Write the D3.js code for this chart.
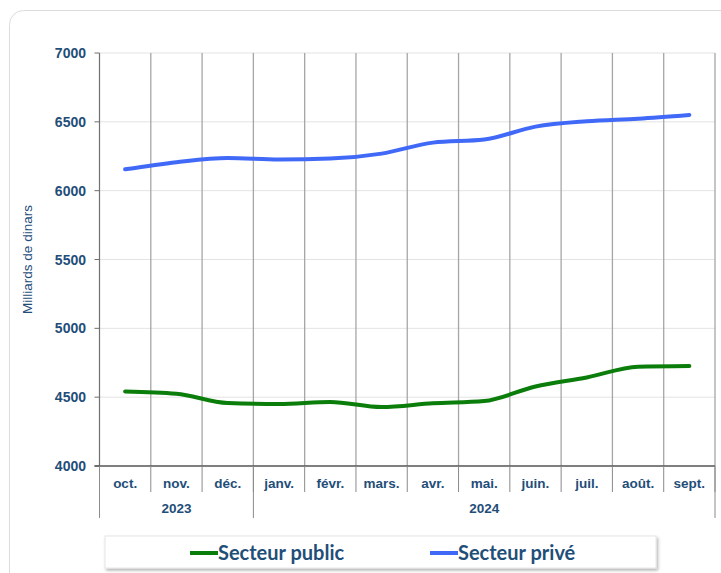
<!DOCTYPE html>
<html>
<head>
<meta charset="utf-8">
<script src="https://cdn.jsdelivr.net/npm/d3@7"></script>
<style>
  body { margin: 0; background: #fff; }
  svg { display: block; }
</style>
</head>
<body>
<div id="chart"></div>
<script>
// Data
const months = ["oct.", "nov.", "déc.", "janv.", "févr.", "mars.", "avr.", "mai.", "juin.", "juil.", "août.", "sept."];
const years = [
  { label: "2023", from: 0, to: 3 },
  { label: "2024", from: 3, to: 12 }
];
const publicValues = [4542, 4525, 4457, 4450, 4465, 4428, 4455, 4472, 4578, 4643, 4721, 4726];
const priveValues = [6155, 6207, 6238, 6226, 6233, 6269, 6349, 6371, 6465, 6504, 6523, 6550];
const yTicks = [4000, 4500, 5000, 5500, 6000, 6500, 7000];

const width = 721, height = 573;
const margin = { left: 99.5, right: 6, top: 53, bottom: 107 };
const navy = "#1f4e79";

const svg = d3.select("#chart").append("svg")
  .attr("width", width)
  .attr("height", height);

// outer card
svg.append("rect")
  .attr("x", 9.5).attr("y", 10.5)
  .attr("width", 740).attr("height", 600)
  .attr("rx", 14)
  .attr("fill", "#fff")
  .attr("stroke", "#dcdcdc");

const x = d3.scaleBand()
  .domain(months)
  .range([margin.left, width - margin.right])
  .padding(0);

const y = d3.scaleLinear()
  .domain([4000, 7000])
  .range([height - margin.bottom, margin.top]);

const x0 = margin.left, x1 = width - margin.right;
const yBottom = y(4000), yTop = y(7000);

// horizontal gridlines
svg.append("g")
  .selectAll("line")
  .data(yTicks.filter(d => d > 4000))
  .join("line")
  .attr("x1", x0).attr("x2", x1)
  .attr("y1", d => y(d)).attr("y2", d => y(d))
  .attr("stroke", "#e3e3e3")
  .attr("stroke-width", 1);

// vertical gridlines (category boundaries)
svg.append("g")
  .selectAll("line")
  .data(months.slice(1).map(m => x(m)).concat([x1]))
  .join("line")
  .attr("x1", d => d).attr("x2", d => d)
  .attr("y1", yTop).attr("y2", yBottom)
  .attr("stroke", "#a6a6a6")
  .attr("stroke-width", 1.3);

// y axis
svg.append("line")
  .attr("x1", x0).attr("x2", x0)
  .attr("y1", yTop).attr("y2", yBottom)
  .attr("stroke", "#707070").attr("stroke-width", 1.2);

svg.append("g")
  .selectAll("line")
  .data(yTicks)
  .join("line")
  .attr("x1", x0 - 5).attr("x2", x0)
  .attr("y1", d => y(d)).attr("y2", d => y(d))
  .attr("stroke", "#707070");

svg.append("g")
  .selectAll("text")
  .data(yTicks)
  .join("text")
  .attr("x", 86)
  .attr("y", d => y(d))
  .attr("dy", "0.36em")
  .attr("text-anchor", "end")
  .attr("font-family", "Liberation Sans, Arial, sans-serif")
  .attr("font-size", 14)
  .attr("font-weight", "bold")
  .attr("fill", navy)
  .text(d => d);

// y title
svg.append("text")
  .attr("transform", `translate(32,${(yTop + yBottom) / 2}) rotate(-90)`)
  .attr("text-anchor", "middle")
  .attr("font-family", "Liberation Sans, Arial, sans-serif")
  .attr("font-size", 13.5)
  .attr("fill", navy)
  .text("Milliards de dinars");

// x axis baseline
svg.append("line")
  .attr("x1", x0 - 5).attr("x2", x1)
  .attr("y1", yBottom).attr("y2", yBottom)
  .attr("stroke", "#555").attr("stroke-width", 1.3);

// month ticks below axis
svg.append("g")
  .selectAll("line")
  .data(months.map(m => x(m)).concat([x1]))
  .join("line")
  .attr("x1", d => d).attr("x2", d => d)
  .attr("y1", yBottom).attr("y2", yBottom + 26)
  .attr("stroke", "#8a8a8a");

// year separators
const yearEdges = [x0].concat(years.map(yr => yr.to === months.length ? x1 : x(months[yr.to])));
svg.append("g")
  .selectAll("line")
  .data(yearEdges)
  .join("line")
  .attr("x1", d => d).attr("x2", d => d)
  .attr("y1", yBottom).attr("y2", yBottom + 52)
  .attr("stroke", "#8a8a8a");

// month labels
svg.append("g")
  .selectAll("text")
  .data(months)
  .join("text")
  .attr("x", d => x(d) + x.bandwidth() / 2)
  .attr("y", yBottom + 22)
  .attr("text-anchor", "middle")
  .attr("font-family", "Liberation Sans, Arial, sans-serif")
  .attr("font-size", 13.5)
  .attr("font-weight", "bold")
  .attr("fill", navy)
  .text(d => d);

// year labels
svg.append("g")
  .selectAll("text")
  .data(years)
  .join("text")
  .attr("x", d => {
    const a = x(months[d.from]);
    const b = d.to === months.length ? x1 : x(months[d.to]);
    return (a + b) / 2;
  })
  .attr("y", yBottom + 47)
  .attr("text-anchor", "middle")
  .attr("font-family", "Liberation Sans, Arial, sans-serif")
  .attr("font-size", 13.5)
  .attr("font-weight", "bold")
  .attr("fill", navy)
  .text(d => d.label);

// lines
const line = d3.line()
  .x((d, i) => x(months[i]) + x.bandwidth() / 2)
  .y(d => y(d))
  .curve(d3.curveMonotoneX);

svg.append("path")
  .datum(priveValues)
  .attr("d", line)
  .attr("fill", "none")
  .attr("stroke", "#4169f8")
  .attr("stroke-width", 4)
  .attr("stroke-linecap", "round");

svg.append("path")
  .datum(publicValues)
  .attr("d", line)
  .attr("fill", "none")
  .attr("stroke", "#0a7d0a")
  .attr("stroke-width", 4)
  .attr("stroke-linecap", "round");

// legend box with shadow
const defs = svg.append("defs");
const filter = defs.append("filter").attr("id", "shadow")
  .attr("x", "-5%").attr("y", "-20%").attr("width", "110%").attr("height", "160%");
filter.append("feDropShadow")
  .attr("dx", 1.5).attr("dy", 2)
  .attr("stdDeviation", 1.5)
  .attr("flood-color", "#000")
  .attr("flood-opacity", 0.3);

svg.append("rect")
  .attr("x", 105).attr("y", 536)
  .attr("width", 551).attr("height", 32)
  .attr("fill", "#fff")
  .attr("stroke", "#e6e6e6")
  .attr("filter", "url(#shadow)");

const legendItems = [
  { label: "Secteur public", color: "#0a7d0a", x: 190 },
  { label: "Secteur privé", color: "#4169f8", x: 430 }
];

const leg = svg.append("g")
  .selectAll("g")
  .data(legendItems)
  .join("g")
  .attr("transform", d => `translate(${d.x},553)`);

leg.append("line")
  .attr("x1", 0).attr("x2", 28)
  .attr("stroke", d => d.color)
  .attr("stroke-width", 4);

leg.append("text")
  .attr("x", 28)
  .attr("dy", "0.35em")
  .attr("font-family", "Lato, 'DejaVu Sans', sans-serif")
  .attr("font-size", 20)
  .attr("font-weight", "bold")
  .attr("fill", navy)
  .text(d => d.label);
</script>
</body>
</html>
